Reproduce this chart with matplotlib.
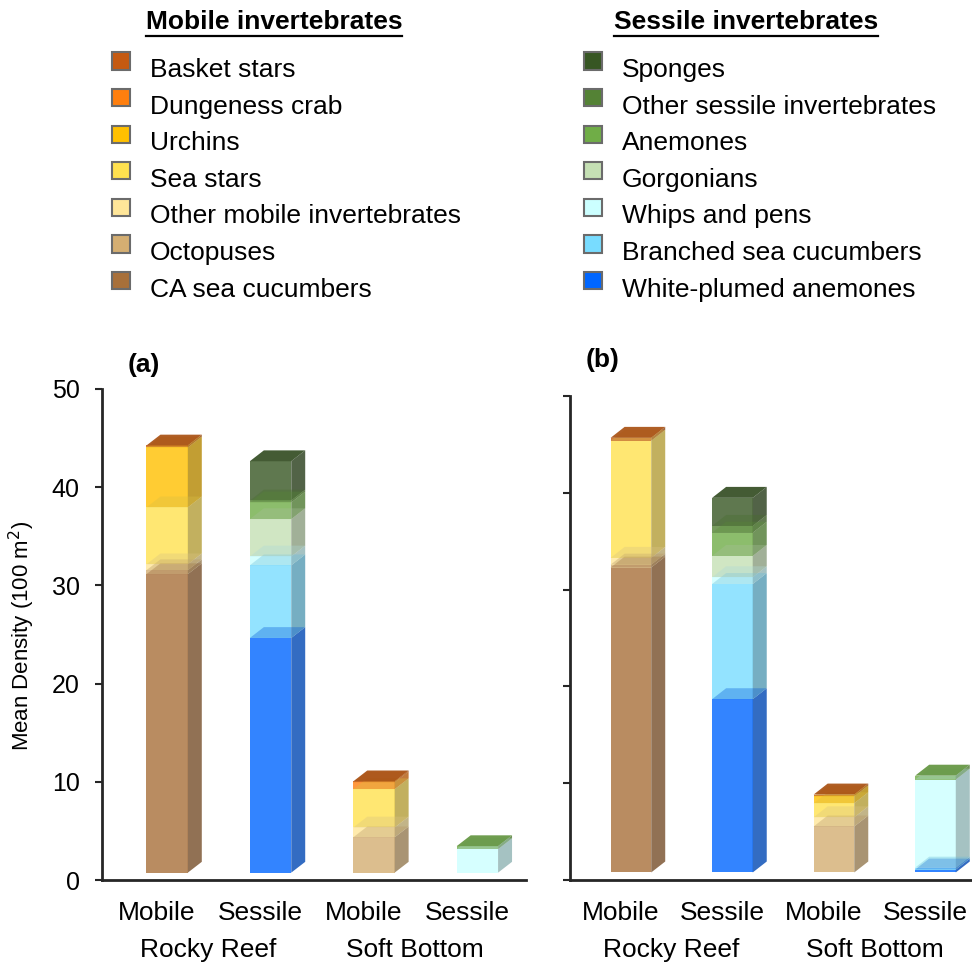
import matplotlib.pyplot as plt
from matplotlib.patches import Polygon, Rectangle
from matplotlib.lines import Line2D
from matplotlib.colors import to_rgb

plt.rcParams['font.family'] = ['Liberation Sans', 'DejaVu Sans']

# Categories and taxa (stacking order is bottom -> top)
categories = ['Mobile', 'Sessile', 'Mobile', 'Sessile']
habitats = ['Rocky Reef', 'Soft Bottom']

mobile_names = ['CA sea cucumbers', 'Octopuses', 'Other mobile invertebrates',
                'Sea stars', 'Urchins', 'Dungeness crab', 'Basket stars']
mobile_colors = ['#A8703A', '#D4AE72', '#FFE699', '#FFE14F', '#FFC000', '#FF7F0E', '#C55A11']

sessile_names = ['White-plumed anemones', 'Branched sea cucumbers', 'Whips and pens',
                 'Gorgonians', 'Anemones', 'Other sessile invertebrates', 'Sponges']
sessile_colors = ['#0066FF', '#78DCFF', '#CCFFFF', '#C5E0B4', '#70AD47', '#548235', '#375623']

# Mean density per 100 m2, panel (a)
a_rr_mobile = [30.4, 0.4, 0.6, 5.8, 6.1, 0.0, 0.2]
a_rr_sessile = [23.9, 7.4, 0.9, 3.8, 1.7, 0.2, 4.0]
a_sb_mobile = [0.0, 3.6, 1.0, 3.9, 0.0, 0.7, 0.1]
a_sb_sessile = [0.0, 0.0, 2.4, 0.0, 0.3, 0.0, 0.0]

# panel (b)
b_rr_mobile = [31.5, 0.3, 0.7, 12.1, 0.0, 0.0, 0.3]
b_rr_sessile = [17.9, 11.9, 0.7, 2.2, 2.4, 0.7, 2.9]
b_sb_mobile = [0.0, 4.75, 0.95, 1.45, 0.7, 0.0, 0.2]
b_sb_sessile = [0.3, 0.2, 9.1, 0.0, 0.4, 0.0, 0.0]


def darker(c, f):
    r, g, b = to_rgb(c)
    return (r * f, g * f, b * f)


def bar3d(ax, x, vals, colors, floor, dx, dy, w=0.4):
    y = floor
    tops = []
    for v, c in zip(vals, colors):
        if v <= 0:
            continue
        ax.add_patch(Rectangle((x, y), w, v, fc=c, alpha=0.8, lw=0, zorder=2))
        ax.add_patch(Polygon([(x + w, y), (x + w + dx, y + dy), (x + w + dx, y + v + dy), (x + w, y + v)],
                             fc=darker(c, 0.7), alpha=0.8, lw=0, zorder=2))
        y += v
        tops.append((y, c))
    for i, (yt, c) in enumerate(tops):
        last = i == len(tops) - 1
        ax.add_patch(Polygon([(x, yt), (x + w, yt), (x + w + dx, yt + dy), (x + dx, yt + dy)],
                             fc=darker(c, 0.85), alpha=0.9 if last else 0.35, lw=0, zorder=3))


def setup(ax, xlim, show_labels, row2_y):
    ax.set_xlim(*xlim)
    ax.set_ylim(0, 50)
    for s in ['top', 'right']:
        ax.spines[s].set_visible(False)
    for s in ['left', 'bottom']:
        ax.spines[s].set_linewidth(2)
        ax.spines[s].set_color('#262626')
    ax.set_xticks(range(4), categories, fontsize=19)
    ax.tick_params(axis='x', length=0, pad=15)
    ax.set_yticks([0, 10, 20, 30, 40, 50])
    ax.tick_params(axis='y', length=5, width=1.5, pad=11, labelsize=18, color='#262626')
    if not show_labels:
        ax.set_yticklabels([])
    for xc, h in zip([0.5, 2.5], habitats):
        ax.text(xc, row2_y, h, transform=ax.get_xaxis_transform(), ha='center', va='center', fontsize=19)


fig = plt.figure(figsize=(9.72, 9.64), dpi=100)
ax_a = fig.add_axes([102 / 972, 1 - 880 / 964, 424 / 972, 491 / 964])
ax_b = fig.add_axes([570 / 972, 1 - 880 / 964, 401 / 972, 484 / 964])

setup(ax_a, (-0.53, 3.57), True, -0.143)
setup(ax_b, (-0.50, 3.45), False, -0.145)

panels = [
    (ax_a, [a_rr_mobile, a_rr_sessile, a_sb_mobile, a_sb_sessile], 0.75, 0.135, 1.1),
    (ax_b, [b_rr_mobile, b_rr_sessile, b_sb_mobile, b_sb_sessile], 0.78, 0.138, 1.13),
]
for ax, bars, floor, dx, dy in panels:
    for i, vals in enumerate(bars):
        cols = mobile_colors if i % 2 == 0 else sessile_colors
        bar3d(ax, i - 0.1, vals, cols, floor, dx, dy)

fig.text(144 / 972, 1 - 365 / 964, '(a)', fontsize=19, fontweight='bold', ha='center', va='center')
fig.text(603 / 972, 1 - 360 / 964, '(b)', fontsize=19, fontweight='bold', ha='center', va='center')
fig.text(22 / 972, 1 - 636 / 964, 'Mean Density (100 m$^2$)', rotation=90, fontsize=16,
         ha='center', va='center')

# Legend block
t1 = fig.text(274 / 972, 1 - 22 / 964, 'Mobile invertebrates', fontsize=19, fontweight='bold',
              ha='center', va='center')
t2 = fig.text(746 / 972, 1 - 22 / 964, 'Sessile invertebrates', fontsize=19, fontweight='bold',
              ha='center', va='center')

legend_cols = [
    (list(reversed(mobile_names)), list(reversed(mobile_colors)), 121, 150, 9),
    (list(reversed(sessile_names)), list(reversed(sessile_colors)), 593, 622, 9),
]
for names, cols, sq_x, tx_x, off in legend_cols:
    for i, (n, c) in enumerate(zip(names, cols)):
        ty = 70 + 36.6 * i
        fig.text(tx_x / 972, 1 - ty / 964, n, fontsize=19, ha='left', va='center')
        sy = ty - off
        fig.add_artist(Rectangle(((sq_x - 9) / 972, 1 - (sy + 8.5) / 964), 18 / 972, 17 / 964,
                                 transform=fig.transFigure, fc=c, ec='#6b6b6b', lw=1.5))

fig.canvas.draw()
renderer = fig.canvas.get_renderer()
for t in [t1, t2]:
    bb = t.get_window_extent(renderer).transformed(fig.transFigure.inverted())
    uy = bb.y0 - 1.5 / 964
    fig.add_artist(Line2D([bb.x0, bb.x1], [uy, uy], transform=fig.transFigure, color='black', lw=1.6))

fig.savefig('out.png', dpi=100)
